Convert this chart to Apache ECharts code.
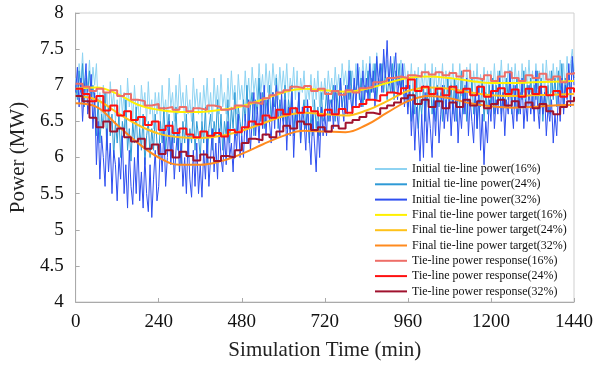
<!DOCTYPE html>
<html><head><meta charset="utf-8">
<script src="https://cdn.jsdelivr.net/npm/echarts@6/dist/echarts.min.js"></script>
<style>html,body{margin:0;padding:0;background:#fff}#c{width:598px;height:367px}</style>
</head><body><div id="c"></div>
<script>
// sampling steps (minutes)
const noiseStep = 5, targetStep = 60, respStep = 20;
const xTicks = [0, 240, 480, 720, 960, 1200, 1440];
const yTicks = [4, 4.5, 5, 5.5, 6, 6.5, 7, 7.5, 8];

const initial16 = [
7.1,6.9,7.3,7.0,7.45,6.9,7.2,7.0,7.35,6.85,7.25,7.0,7.3,6.7,6.9,6.5,7.0,6.6,6.9,6.5,7.05,6.7,6.9,6.5,
6.8,6.5,7.0,6.6,6.9,6.4,7.1,6.7,6.9,6.5,7.0,6.6,6.8,6.4,7.0,6.7,6.9,6.5,7.05,6.6,6.8,6.4,6.9,6.6,
6.9,6.5,7.0,6.6,6.8,6.45,7.1,6.7,6.9,6.5,7.0,6.6,7.15,6.7,6.9,6.5,7.0,6.6,6.8,6.5,7.1,6.7,6.95,6.6,
6.9,6.5,7.0,6.7,7.1,6.6,6.9,6.5,7.1,6.7,7.0,6.6,7.15,6.7,6.9,6.6,7.1,6.7,7.2,6.8,7.0,6.6,7.15,6.8,
7.0,6.7,7.2,6.8,7.1,6.7,7.25,6.9,7.1,6.8,7.3,6.9,7.15,6.8,7.3,6.9,7.2,6.85,7.3,7.0,7.15,6.8,7.25,6.9,
7.2,6.9,7.3,6.8,7.1,6.9,7.25,6.8,7.2,6.7,7.1,6.9,7.2,6.7,7.0,6.8,7.15,6.7,7.1,6.8,7.2,6.7,7.05,6.8,
7.1,6.8,7.2,6.9,7.1,6.8,7.25,6.9,7.15,6.85,7.3,7.0,7.2,6.9,7.35,7.0,7.2,6.9,7.3,7.0,7.25,6.95,7.35,7.0,
7.3,7.0,7.4,7.05,7.3,6.95,7.45,7.1,7.3,7.0,7.4,7.1,7.35,7.0,7.3,6.95,7.4,7.05,7.3,7.0,7.35,6.95,7.3,7.0,
7.2,6.9,7.3,6.85,7.2,6.9,7.25,6.8,7.2,6.9,7.3,6.85,7.2,6.9,7.3,6.9,7.25,6.8,7.2,6.9,7.3,6.85,7.2,6.9,
7.2,6.9,7.3,6.8,7.15,6.9,7.3,6.85,7.2,6.75,7.25,6.9,7.3,6.85,7.2,6.9,7.3,6.8,7.15,6.9,7.25,6.8,7.2,6.9,
7.2,6.9,7.3,6.85,7.2,6.95,7.35,6.9,7.2,6.85,7.3,6.9,7.25,6.9,7.3,6.95,7.2,6.85,7.3,6.9,7.25,6.95,7.35,6.9,
7.2,6.9,7.3,6.95,7.2,6.85,7.3,6.9,7.35,7.0,7.2,6.9,7.3,6.95,7.25,6.9,7.35,7.0,7.3,6.9,7.4,7.0,7.3,7.5,
7.2];
const initial24 = [
7.0,6.8,7.2,6.9,7.3,6.7,7.1,6.9,7.2,6.8,7.0,6.7,6.3,6.8,6.2,6.6,6.4,6.9,6.1,6.7,6.3,6.6,6.0,6.5,
6.2,6.6,6.0,6.5,6.3,6.8,6.1,6.4,5.95,6.5,6.2,6.7,6.0,6.4,6.1,6.6,5.9,6.3,6.5,6.0,6.4,6.1,6.6,6.2,
6.0,6.5,6.2,6.7,6.1,6.4,6.6,6.0,6.5,6.2,6.7,6.1,6.4,5.9,6.5,6.2,6.6,6.0,6.4,6.2,6.7,6.1,6.5,6.3,
6.0,6.5,6.2,6.7,5.9,6.4,6.6,6.1,6.5,6.3,6.8,6.2,6.6,6.1,6.5,6.3,6.8,6.2,6.7,6.4,6.9,6.3,6.7,6.5,
6.3,6.8,6.5,7.0,6.4,6.7,6.9,6.3,6.8,6.6,7.1,6.5,6.9,6.4,6.8,6.6,7.0,6.5,6.9,6.7,7.1,6.4,6.8,6.6,
6.5,7.0,6.4,6.8,6.6,7.0,6.3,6.7,6.5,6.9,6.2,6.6,6.8,6.4,6.7,6.2,6.6,6.3,6.8,6.4,6.7,6.3,6.9,6.5,
6.6,6.9,6.5,6.8,6.7,7.0,6.5,6.9,6.6,7.1,6.7,6.9,6.6,7.0,6.8,7.2,6.7,7.0,6.9,7.2,6.8,7.1,6.7,7.0,
6.9,7.2,6.8,7.1,6.9,7.3,6.8,7.1,7.0,7.3,6.9,7.2,6.8,7.1,6.9,7.3,6.8,7.2,7.0,7.3,6.9,7.1,6.8,7.0,
6.7,7.0,6.5,6.9,6.6,7.1,6.4,6.8,6.6,7.0,6.5,6.9,6.7,7.1,6.6,6.9,6.5,7.0,6.7,6.9,6.5,7.0,6.6,7.1,
6.7,7.0,6.6,7.1,6.5,6.9,6.7,7.2,6.6,7.0,6.5,6.8,6.7,7.1,6.6,6.9,6.4,6.8,6.7,7.1,6.5,6.9,6.6,7.0,
6.7,7.1,6.6,7.0,6.8,7.2,6.6,6.9,6.7,7.1,6.8,7.2,6.6,7.0,6.7,7.1,6.6,6.9,6.8,7.2,6.7,7.0,6.8,7.1,
6.7,7.0,6.8,7.2,6.6,7.1,6.5,6.9,6.7,7.0,6.6,7.2,6.8,7.1,6.7,7.2,6.9,7.3,6.7,7.1,6.9,7.2,6.8,7.35,
7.1];
const initial32 = [
6.9,7.25,6.7,7.1,6.5,6.95,7.3,6.6,6.8,7.15,6.4,6.9,5.9,6.5,5.7,6.3,6.0,5.6,6.4,5.8,6.2,5.5,6.1,5.9,
5.4,6.0,5.7,6.3,5.5,5.9,5.3,6.1,5.6,5.35,6.0,5.5,6.2,5.4,5.8,5.3,6.0,5.5,5.25,5.9,5.17,5.7,6.1,5.4,
5.6,6.2,5.8,6.4,5.6,6.0,6.5,5.9,6.3,5.7,6.1,6.4,5.8,6.2,5.6,6.0,5.5,6.3,5.7,5.45,6.1,5.6,6.2,5.5,
5.9,5.45,6.1,5.7,6.3,5.6,6.0,6.4,5.8,6.2,5.7,6.4,6.0,5.8,6.3,5.9,6.5,6.0,6.2,5.8,6.4,6.1,6.6,6.0,
6.3,6.0,6.6,6.2,6.8,6.1,6.5,6.9,6.3,6.7,6.2,6.9,6.4,7.0,6.3,6.8,6.5,6.2,6.9,6.4,7.0,6.6,6.3,6.9,
6.4,6.8,6.1,6.7,6.3,6.9,6.0,6.6,6.4,6.9,6.2,6.7,6.5,6.1,6.8,6.3,5.9,6.6,6.2,5.8,6.5,6.0,6.7,6.3,
6.6,6.3,6.9,6.5,6.8,6.4,7.0,6.6,6.4,7.1,6.7,6.5,7.0,6.6,7.2,6.8,6.6,7.1,6.7,7.3,6.9,6.7,7.2,6.8,
7.1,6.8,7.3,6.9,7.2,6.7,7.4,7.0,7.3,6.9,7.5,7.1,7.62,7.0,7.4,6.9,7.2,7.45,6.8,7.1,6.9,7.3,6.7,7.0,
6.6,7.0,6.3,6.8,6.1,6.7,6.4,5.95,6.6,6.0,6.9,6.2,6.7,6.4,6.0,6.8,6.3,6.9,6.2,6.6,7.0,6.4,6.8,6.5,
6.9,6.3,6.8,6.5,7.0,6.2,6.7,6.4,6.9,6.6,7.1,6.3,6.8,6.5,6.2,6.9,6.4,7.0,6.1,6.6,5.9,6.5,6.2,6.8,
6.5,7.0,6.4,6.8,6.6,7.1,6.5,6.9,6.3,6.8,6.6,7.2,6.7,6.4,7.0,6.5,6.9,6.6,7.1,6.4,6.8,6.5,7.0,6.6,
6.9,6.5,7.2,6.7,6.4,7.0,6.6,6.9,6.3,6.7,6.5,6.8,6.2,6.6,6.3,6.9,6.5,7.1,6.6,7.0,6.8,7.3,6.7,7.4,
7.0];

const target16 = [6.95,6.97,6.88,6.73,6.66,6.63,6.63,6.66,6.71,6.80,6.90,6.95,6.93,6.91,6.95,7.03,7.10,7.12,7.10,7.06,7.03,7.03,7.04,7.05,7.06];
const target24 = [6.85,6.80,6.62,6.45,6.33,6.28,6.27,6.30,6.37,6.47,6.57,6.62,6.60,6.58,6.65,6.78,6.92,6.97,6.95,6.90,6.86,6.85,6.86,6.87,6.88];
const target32 = [6.75,6.70,6.45,6.20,6.00,5.90,5.90,5.95,6.05,6.18,6.30,6.37,6.36,6.35,6.45,6.62,6.78,6.85,6.82,6.75,6.71,6.69,6.70,6.72,6.73];

const resp16 = [
7.02,6.98,6.92,6.95,6.90,6.93,6.85,6.88,6.80,6.78,6.72,6.74,
6.68,6.70,6.66,6.70,6.64,6.68,6.66,6.72,6.70,6.66,6.68,6.72,
6.70,6.76,6.74,6.82,6.86,6.90,6.93,6.98,6.96,6.99,6.92,6.95,
6.88,6.92,6.87,6.93,6.90,6.96,6.98,7.04,7.06,7.10,7.12,7.10,
7.14,7.12,7.18,7.15,7.18,7.14,7.17,7.12,7.20,7.10,7.08,7.14,
7.06,7.12,7.18,7.10,7.06,7.14,7.10,7.16,7.08,7.12,7.04,7.16,
7.18];
const resp24 = [
6.95,6.88,6.78,6.85,6.65,6.72,6.58,6.64,6.52,6.56,6.45,6.50,
6.38,6.44,6.34,6.40,6.32,6.28,6.36,6.30,6.34,6.29,6.38,6.35,
6.42,6.50,6.46,6.58,6.55,6.66,6.60,6.68,6.62,6.70,6.64,6.58,
6.66,6.60,6.67,6.62,6.70,6.74,6.80,6.78,6.86,6.90,6.88,6.96,
7.08,6.92,6.98,6.88,6.95,6.86,6.98,6.90,6.95,6.86,6.98,6.84,
6.92,6.96,6.88,6.94,6.84,6.95,6.88,6.98,6.86,6.92,6.84,6.96,
6.90];
const resp32 = [
6.85,6.78,6.55,6.42,6.50,6.36,6.40,6.28,6.22,6.26,6.12,6.18,
6.05,6.10,6.00,6.08,6.02,5.96,6.04,6.00,5.95,6.02,6.00,6.10,
6.20,6.26,6.24,6.32,6.28,6.36,6.44,6.40,6.50,6.46,6.38,6.42,
6.36,6.44,6.40,6.48,6.52,6.56,6.62,6.60,6.68,6.72,6.76,6.82,
6.86,6.74,6.80,6.70,6.78,6.68,6.76,6.70,6.80,6.72,6.78,6.68,
6.74,6.80,6.72,6.78,6.70,6.76,6.68,6.74,6.64,6.60,6.70,6.78,
6.84];

const names = [
'Initial tie-line power(16%)','Initial tie-line power(24%)','Initial tie-line power(32%)',
'Final tie-line power target(16%)','Final tie-line power target(24%)','Final tie-line power target(32%)',
'Tie-line power response(16%)','Tie-line power response(24%)','Tie-line power response(32%)'];
const colors = ['#8ED3F2','#2E9AD6','#2E4FF0','#FFF000','#FFC21A','#FF8A1E','#EE6E68','#FF1010','#A0122E'];

function pairs(arr, step){ return arr.map((v,i)=>[i*step, v]); }

const serif = '"Liberation Serif","DejaVu Serif",serif';
const seriesDefs = [
  {d: initial16, s: noiseStep, w: 1, step: false},
  {d: initial24, s: noiseStep, w: 1, step: false},
  {d: initial32, s: noiseStep, w: 1, step: false},
  {d: target16, s: targetStep, w: 2, step: false, smooth: true},
  {d: target24, s: targetStep, w: 2, step: false, smooth: true},
  {d: target32, s: targetStep, w: 2, step: false, smooth: true},
  {d: resp16, s: respStep, w: 2, step: 'end'},
  {d: resp24, s: respStep, w: 2, step: 'end'},
  {d: resp32, s: respStep, w: 2, step: 'end'}
];

const chart = echarts.init(document.getElementById('c'), null, {renderer:'canvas'});
chart.setOption({
  animation: false,
  backgroundColor: '#fff',
  color: colors,
  grid: {left: 75, right: 24, top: 13, bottom: 65, show: true, borderColor: '#cfcfcf', borderWidth: 1},
  xAxis: {
    type: 'value', min: 0, max: 1440, interval: 240,
    name: 'Simulation Time (min)', nameLocation: 'middle', nameGap: 38,
    nameTextStyle: {fontFamily: serif, fontSize: 21, color: '#222'},
    axisLine: {show: true, lineStyle: {color: '#aaa'}},
    axisTick: {show: true, inside: true, length: 4, lineStyle: {color: '#aaa'}},
    axisLabel: {fontFamily: serif, fontSize: 19, color: '#111', margin: 11,
      formatter: v => xTicks.includes(v) ? String(v) : ''},
    splitLine: {show: false}
  },
  yAxis: {
    type: 'value', min: 4, max: 8, interval: 0.5,
    name: 'Power (MW)', nameLocation: 'middle', nameGap: 46, nameRotate: 90,
    nameTextStyle: {fontFamily: serif, fontSize: 21, color: '#222'},
    axisLine: {show: true, lineStyle: {color: '#aaa'}},
    axisTick: {show: true, inside: true, length: 4, lineStyle: {color: '#aaa'}},
    axisLabel: {fontFamily: serif, fontSize: 19, color: '#111', margin: 12,
      formatter: v => yTicks.includes(v) ? String(v) : ''},
    splitLine: {show: false}
  },
  legend: {
    orient: 'vertical', left: 370, top: 157,
    itemWidth: 32, itemHeight: 2, itemGap: 1.3, icon: 'rect',
    textStyle: {fontFamily: serif, fontSize: 12, color: '#111', lineHeight: 14, padding: [0,0,0,0]},
    data: names
  },
  series: seriesDefs.map((s, i) => ({
    name: names[i], type: 'line', data: pairs(s.d, s.s),
    showSymbol: false, symbol: 'none', step: s.step, smooth: s.smooth ? 0.4 : false,
    lineStyle: {width: s.w, color: colors[i]}, itemStyle: {color: colors[i]},
    z: 2 + i
  }))
});
</script></body></html>
